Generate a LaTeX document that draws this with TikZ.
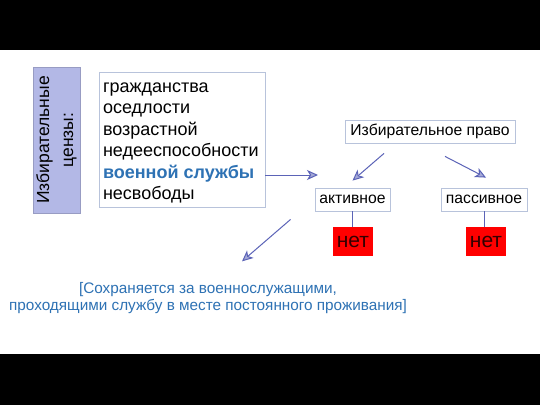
\documentclass[tikz,border=0pt]{standalone}
\usepackage{fontspec}
\setmainfont{Liberation Sans}
\usetikzlibrary{arrows.meta}

\definecolor{arrblue}{HTML}{5B63B7}
\definecolor{boxline}{HTML}{B8C3DB}
\definecolor{lilac}{HTML}{B3B8E6}
\definecolor{textblue}{HTML}{2E72B4}

\begin{document}
\begin{tikzpicture}[x=1pt,y=-1pt]

\tikzset{box/.style = {draw=boxline, line width=0.8pt, fill=white, inner sep=0pt}}
\tikzset{nobox/.style = {fill=red, text=black!80!red, minimum width=40pt, minimum height=29pt, inner sep=0pt, font=\fontsize{21}{22}\selectfont}}
\tikzset{arr/.style = {draw=arrblue, line width=1pt, -{Stealth[length=11pt, width=10pt, inset=3pt, fill=arrblue!55]}}}
\tikzset{link/.style = {draw=arrblue, line width=1pt}}

% background
\fill[black] (0,0) rectangle (540,405);
\fill[white] (0,50) rectangle (540,354);
\useasboundingbox (0,0) rectangle (540,405);

% nodes
\node[box, fill=lilac, draw=lilac!85!black, rotate=90, minimum width=146pt, minimum height=47pt, align=center, font=\fontsize{17.5}{24}\selectfont] (cens) at (56.5,140) {Избирательные\\цензы:};
\node[box, minimum width=166pt, minimum height=135pt, font=\fontsize{18}{21.5}\selectfont] (kinds) at (182,139.5) {\raisebox{0pt}[\dimexpr\height+7pt\relax]{\parbox{158pt}{\raggedright гражданства\\оседлости\\возрастной\\недееспособности\\\textcolor{textblue}{\textbf{военной службы}}\\несвободы}}};
\node[box, minimum width=170pt, minimum height=23pt, font=\fontsize{15.7}{17}\selectfont] (law) at (430,131.5) {Избирательное право};
\node[box, minimum width=75pt, minimum height=23pt, font=\fontsize{15.7}{17}\selectfont] (act) at (352.5,199.5) {активное};
\node[box, minimum width=86pt, minimum height=23pt, font=\fontsize{15.7}{17}\selectfont] (pas) at (484,199.5) {пассивное};
\node[nobox] (no1) at (353,241.5) {нет};
\node[nobox] (no2) at (486,241.5) {нет};
\node[text=textblue, align=center, font=\fontsize{15.3}{17}\selectfont] (note) at (208,298.5) {[Сохраняется за военнослужащими,\\проходящими службу в месте постоянного проживания]};
\coordinate (tip) at (318,175);

% edges
\draw[arr] (kinds.east |- tip) -- (tip);
\draw[arr] ([xshift=-46pt, yshift=-10pt]law.south) -- ([yshift=7pt]act.north);
\draw[arr] ([xshift=15pt, yshift=-13pt]law.south) -- ([xshift=2pt, yshift=10pt]pas.north);
\draw[link] (act.south) -- (no1.north -| act.south);
\draw[link] (pas.south) -- (no2.north -| pas.south);
\draw[arr] ([xshift=-24pt, yshift=-8pt]act.south west) -- ([xshift=34pt, yshift=18pt]note.north);

\end{tikzpicture}
\end{document}
